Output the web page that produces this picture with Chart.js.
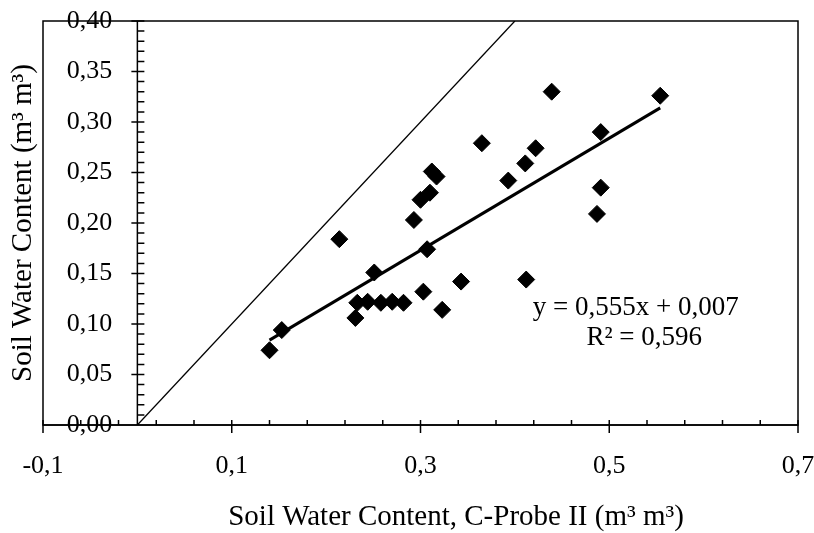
<!DOCTYPE html>
<html>
<head>
<meta charset="utf-8">
<script src="https://cdn.jsdelivr.net/npm/chart.js@4.4.1/dist/chart.umd.min.js"></script>
<style>
  html, body { margin: 0; padding: 0; background: #fff; }
  #wrap { width: 814px; height: 533px; position: relative; }
</style>
</head>
<body>
<div id="wrap"><canvas id="chart"></canvas></div>
<script>
// Data (m3 m3)
const probeX = [0.140, 0.153, 0.214, 0.251, 0.231, 0.233, 0.244, 0.258, 0.270, 0.282,
  0.303, 0.307, 0.293, 0.300, 0.310, 0.312, 0.317, 0.323, 0.343, 0.365,
  0.393, 0.411, 0.422, 0.412, 0.439, 0.491, 0.491, 0.487, 0.554];
const soilY = [0.074, 0.094, 0.184, 0.151, 0.106, 0.121, 0.122, 0.121, 0.122, 0.121,
  0.132, 0.174, 0.203, 0.223, 0.230, 0.251, 0.246, 0.114, 0.142, 0.279,
  0.242, 0.259, 0.274, 0.144, 0.330, 0.290, 0.235, 0.209, 0.326];

// 1:1 line and fitted trend line ends
const oneToOneX = [0, 0.4];
const oneToOneY = [0, 0.4];
const trendX = [0.140, 0.554];
const trendY = [0.084, 0.314];

const xTicks = [-0.1, 0.1, 0.3, 0.5, 0.7];
const yTicks = [0, 0.05, 0.1, 0.15, 0.2, 0.25, 0.3, 0.35, 0.4];

const eqLine1 = "y = 0,555x + 0,007";
const eqLine2 = "R² = 0,596";

const FONT = "'Liberation Serif', 'Times New Roman', serif";

function pts(xs, ys) {
  return xs.map((v, i) => ({ x: v, y: ys[i] }));
}

// no label overhang padding, the frame is set by layout padding
function noPad(s) {
  s.paddingLeft = 0;
  s.paddingRight = 0;
  s.paddingTop = 0;
  s.paddingBottom = 0;
}

// Frame, axis lines, tick marks, titles and the equation
const frame = {
  id: "frame",
  afterDatasetsDraw(chart) {
    const { ctx, chartArea: a, scales: { x, y } } = chart;
    const x0 = x.getPixelForValue(0);
    const y0 = y.getPixelForValue(0);
    ctx.save();
    ctx.strokeStyle = "#000";
    ctx.lineWidth = 1.5;
    ctx.strokeRect(a.left, a.top, a.right - a.left, a.bottom - a.top);

    ctx.beginPath();
    ctx.moveTo(x0, a.top);
    ctx.lineTo(x0, a.bottom);
    ctx.moveTo(a.left, y0);
    ctx.lineTo(a.right, y0);
    // y ticks, every 0.01, major every 0.05
    for (let i = 0; i <= 40; i++) {
      const py = y.getPixelForValue(i / 100);
      if (i % 5 === 0) {
        ctx.moveTo(x0 - 6, py);
        ctx.lineTo(x0 + 7, py);
      } else {
        ctx.moveTo(x0, py);
        ctx.lineTo(x0 + 7, py);
      }
    }
    // x ticks, every 0.04, major every 0.2
    for (let i = 0; i <= 20; i++) {
      const px = x.getPixelForValue(-0.1 + i * 0.04);
      if (i % 5 === 0) {
        ctx.moveTo(px, y0 - 5);
        ctx.lineTo(px, y0 + 8);
      } else {
        ctx.moveTo(px, y0 - 5);
        ctx.lineTo(px, y0);
      }
    }
    ctx.stroke();

    ctx.fillStyle = "#000";
    ctx.textBaseline = "middle";
    ctx.textAlign = "center";
    ctx.font = "27px " + FONT;
    ctx.fillText(eqLine1, x.getPixelForValue(0.528), y.getPixelForValue(0.116));
    ctx.fillText(eqLine2, x.getPixelForValue(0.537), y.getPixelForValue(0.086));

    ctx.font = "29px " + FONT;
    ctx.fillText("Soil Water Content, C-Probe II (m³ m³)", 456, 517);
    ctx.translate(23, (a.top + a.bottom) / 2);
    ctx.rotate(-Math.PI / 2);
    ctx.fillText("Soil Water Content (m³ m³)", 0, 0);
    ctx.restore();
  },
};

const ctx = document.getElementById("chart").getContext("2d");
const chart = new Chart(ctx, {
  type: "scatter",
  data: {
    datasets: [
      {
        label: "1:1",
        data: pts(oneToOneX, oneToOneY),
        showLine: true,
        borderColor: "#000",
        borderWidth: 1.3,
        pointRadius: 0,
      },
      {
        label: "Trend",
        data: pts(trendX, trendY),
        showLine: true,
        borderColor: "#000",
        borderWidth: 3,
        pointRadius: 0,
      },
      {
        label: "Soil water content",
        data: pts(probeX, soilY),
        pointStyle: "rectRot",
        pointRadius: 8.5,
        backgroundColor: "#000",
        borderColor: "#000",
        borderWidth: 1,
      },
    ],
  },
  options: {
    responsive: true,
    maintainAspectRatio: false,
    animation: false,
    layout: { padding: { left: 43, right: 16, top: 21, bottom: 0 } },
    plugins: { legend: { display: false }, tooltip: { enabled: false } },
    scales: {
      x: {
        type: "linear",
        min: -0.1,
        max: 0.7,
        afterBuildTicks: (s) => { s.ticks = xTicks.map((v) => ({ value: v })); },
        afterFit: (s) => { s.height = 108; noPad(s); },
        grid: { display: false, drawTicks: false },
        border: { display: false },
        ticks: {
          color: "#000",
          padding: 26,
          maxRotation: 0,
          font: { family: FONT, size: 26 },
          callback: (v) => v.toFixed(1).replace(".", ","),
        },
      },
      y: {
        type: "linear",
        min: 0,
        max: 0.4,
        // labels sit 25px left of the x = 0 axis line
        position: { x: -0.0265 },
        afterBuildTicks: (s) => { s.ticks = yTicks.map((v) => ({ value: v })); },
        afterFit: (s) => { s.width = 0; noPad(s); },
        grid: { display: false, drawTicks: false },
        border: { display: false },
        ticks: {
          color: "#000",
          padding: 0,
          font: { family: FONT, size: 26 },
          callback: (v) => v.toFixed(2).replace(".", ","),
        },
      },
    },
  },
  plugins: [frame],
});
</script>
</body>
</html>
